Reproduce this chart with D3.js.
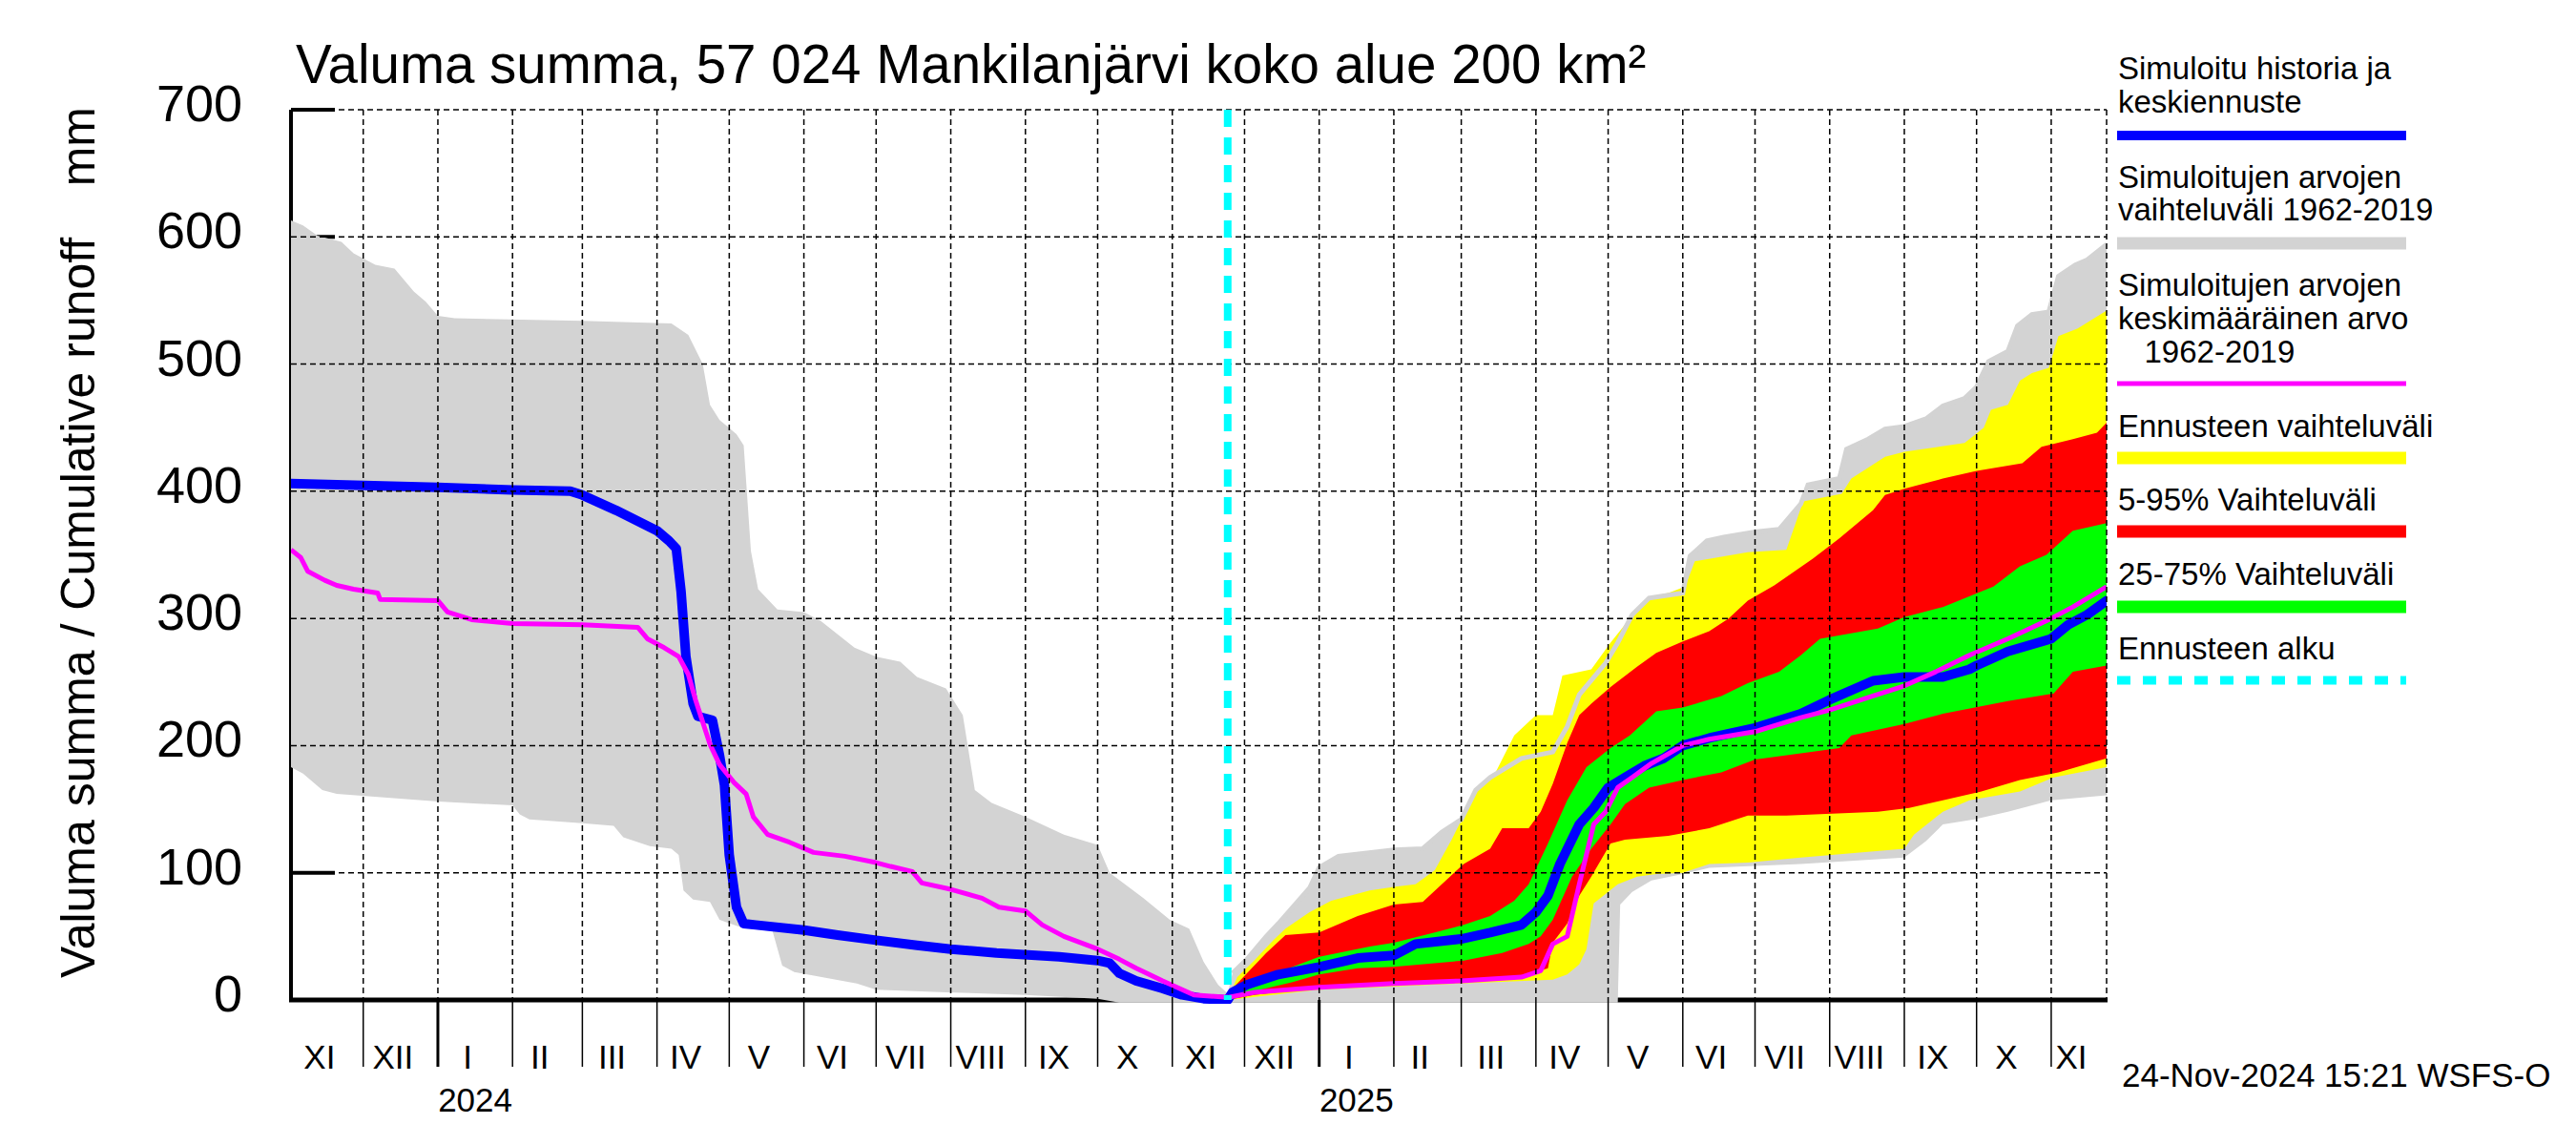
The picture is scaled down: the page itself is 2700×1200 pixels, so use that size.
<!DOCTYPE html>
<html>
<head>
<meta charset="utf-8">
<script src="https://cdn.jsdelivr.net/npm/d3@7/dist/d3.min.js"></script>
<style>
  html, body { margin: 0; padding: 0; background: #fff; }
  svg { display: block; }
  text { font-family: "Liberation Sans", Arial, Helvetica, sans-serif; fill: #000; }
</style>
</head>
<body>
<svg id="chart" width="2700" height="1200"></svg>
<script>
// ---------------- DATA ----------------
const titleText = "Valuma summa, 57 024 Mankilanjärvi koko alue 200 km²";
const yAxisTitle = "Valuma summa / Cumulative runoff";
const yAxisUnit = "mm";
const stampText = "24-Nov-2024 15:21 WSFS-O";
const dateStart = "2023-11-01";
const dateEnd = "2025-11-24";
const forecastStart = "2024-11-24";
const yTicks = [0, 100, 200, 300, 400, 500, 600, 700];
const monthNames = ["I","II","III","IV","V","VI","VII","VIII","IX","X","XI","XII"];

// Historical simulated range 1962-2019 (max / min)
const histMax = [["2023-11-01",613],["2023-11-06",609],["2023-11-12",601],["2023-11-22",596],["2023-11-27",587],["2023-12-06",578],["2023-12-14",575],["2023-12-18",566],["2023-12-22",557],["2023-12-27",549],["2024-01-01",538],["2024-01-08",536],["2024-03-01",534],["2024-04-07",532],["2024-04-14",523],["2024-04-20",500],["2024-04-23",468],["2024-04-27",456],["2024-05-04",445],["2024-05-07",436],["2024-05-10",353],["2024-05-13",323],["2024-05-21",307],["2024-06-01",305],["2024-06-08",298],["2024-06-22",277],["2024-07-01",270],["2024-07-11",266],["2024-07-18",254],["2024-07-30",245],["2024-08-06",224],["2024-08-11",165],["2024-08-18",155],["2024-09-01",144],["2024-09-17",130],["2024-10-01",122],["2024-10-06",100],["2024-10-20",80],["2024-10-31",63],["2024-11-08",56],["2024-11-14",30],["2024-11-20",12],["2024-11-24",5],["2024-11-26",21],["2024-12-02",32],["2024-12-10",50],["2024-12-15",60],["2024-12-28",88],["2025-01-01",104],["2025-01-09",113],["2025-02-01",118],["2025-02-13",119],["2025-02-21",132],["2025-03-01",142],["2025-03-07",165],["2025-03-13",175],["2025-03-26",190],["2025-04-08",195],["2025-04-14",215],["2025-04-19",240],["2025-04-30",265],["2025-05-05",281],["2025-05-11",303],["2025-05-18",316],["2025-06-01",320],["2025-06-04",349],["2025-06-11",361],["2025-06-18",364],["2025-07-01",368],["2025-07-11",370],["2025-07-20",390],["2025-07-23",405],["2025-08-05",410],["2025-08-08",433],["2025-08-17",441],["2025-08-24",449],["2025-09-01",451],["2025-09-10",457],["2025-09-17",467],["2025-09-26",473],["2025-10-01",482],["2025-10-06",502],["2025-10-14",510],["2025-10-18",530],["2025-10-24",539],["2025-10-31",541],["2025-11-04",569],["2025-11-11",578],["2025-11-16",582],["2025-11-24",594]];
const histMin = [["2023-11-01",183],["2023-11-06",178],["2023-11-14",165],["2023-11-20",162],["2024-01-01",156],["2024-02-01",153],["2024-02-04",146],["2024-02-08",142],["2024-03-01",139],["2024-03-14",137],["2024-03-18",128],["2024-03-29",121],["2024-04-07",119],["2024-04-10",114],["2024-04-12",86],["2024-04-16",79],["2024-04-23",77],["2024-04-27",63],["2024-05-06",57],["2024-05-19",54],["2024-05-23",27],["2024-05-28",22],["2024-06-23",13],["2024-07-01",8],["2024-07-30",6],["2024-09-01",4],["2024-10-01",1],["2024-10-10",-2],["2025-05-05",-2],["2025-05-06",75],["2025-05-11",85],["2025-05-19",94],["2025-06-01",99],["2025-06-12",104],["2025-07-20",107],["2025-09-01",112],["2025-09-10",125],["2025-09-17",138],["2025-09-30",142],["2025-10-14",148],["2025-11-01",157],["2025-11-24",161]];

// Forecast range (max / min)
const fcMax = [["2024-11-24",0],["2024-11-28",18],["2024-12-05",31],["2024-12-13",47],["2024-12-18",56],["2024-12-28",69],["2025-01-06",78],["2025-01-22",86],["2025-02-01",89],["2025-02-10",91],["2025-02-18",102],["2025-02-25",126],["2025-03-07",164],["2025-03-15",178],["2025-03-23",208],["2025-04-01",224],["2025-04-08",224],["2025-04-12",255],["2025-04-24",260],["2025-05-02",281],["2025-05-10",300],["2025-05-18",317],["2025-05-26",320],["2025-06-02",325],["2025-06-06",345],["2025-06-28",352],["2025-07-14",354],["2025-07-21",392],["2025-08-06",398],["2025-08-10",410],["2025-08-24",427],["2025-09-01",431],["2025-09-26",438],["2025-10-04",450],["2025-10-07",464],["2025-10-14",468],["2025-10-19",487],["2025-10-24",493],["2025-10-31",497],["2025-11-04",522],["2025-11-12",528],["2025-11-24",542]];
const fcMin = [["2024-11-24",0],["2025-01-01",8],["2025-03-01",13],["2025-04-08",16],["2025-04-14",20],["2025-04-19",28],["2025-04-22",40],["2025-04-25",76],["2025-05-05",91],["2025-05-13",97],["2025-05-21",99],["2025-06-01",100],["2025-06-12",107],["2025-06-28",108],["2025-07-20",112],["2025-09-01",119],["2025-09-05",130],["2025-09-17",148],["2025-09-28",157],["2025-10-19",164],["2025-11-02",175],["2025-11-24",183]];

// 5-95 % range
const p95 = [["2024-11-24",0],["2024-11-26",9],["2024-12-02",21],["2024-12-10",37],["2024-12-18",51],["2025-01-01",53],["2025-01-17",66],["2025-02-01",75],["2025-02-13",77],["2025-03-02",107],["2025-03-13",119],["2025-03-18",135],["2025-03-29",135],["2025-04-03",148],["2025-04-08",170],["2025-04-14",202],["2025-04-19",224],["2025-04-24",233],["2025-05-02",246],["2025-05-13",262],["2025-05-21",273],["2025-06-01",282],["2025-06-12",290],["2025-06-20",300],["2025-06-28",314],["2025-07-09",326],["2025-07-25",347],["2025-08-05",363],["2025-08-19",385],["2025-08-24",397],["2025-09-01",402],["2025-09-17",410],["2025-10-01",416],["2025-10-20",422],["2025-10-28",435],["2025-11-10",441],["2025-11-20",446],["2025-11-24",454]];
const p05 = [["2024-11-24",0],["2024-12-05",4],["2025-01-01",10],["2025-02-01",14],["2025-03-01",15],["2025-03-26",18],["2025-04-06",25],["2025-04-08",45],["2025-04-14",60],["2025-04-19",82],["2025-04-24",97],["2025-05-02",123],["2025-05-08",126],["2025-05-26",129],["2025-06-12",135],["2025-06-28",145],["2025-07-14",145],["2025-08-21",148],["2025-09-03",151],["2025-09-17",157],["2025-10-03",164],["2025-10-19",173],["2025-11-04",179],["2025-11-24",190]];

// 25-75 % range
const p75 = [["2024-11-24",0],["2024-11-26",7],["2024-12-05",15],["2024-12-21",26],["2025-01-01",34],["2025-01-22",42],["2025-02-01",45],["2025-02-18",53],["2025-03-02",59],["2025-03-13",66],["2025-03-23",78],["2025-03-29",91],["2025-04-06",123],["2025-04-14",157],["2025-04-22",183],["2025-05-02",198],["2025-05-10",208],["2025-05-21",227],["2025-06-01",230],["2025-06-17",239],["2025-06-28",249],["2025-07-11",258],["2025-07-20",271],["2025-07-28",284],["2025-08-21",292],["2025-09-01",301],["2025-09-17",309],["2025-10-08",325],["2025-10-19",341],["2025-10-30",350],["2025-11-10",369],["2025-11-24",375]];
const p25 = [["2024-11-24",0],["2024-12-05",7],["2024-12-21",14],["2025-01-01",20],["2025-01-17",25],["2025-02-01",26],["2025-03-02",31],["2025-03-18",37],["2025-03-29",44],["2025-04-03",50],["2025-04-08",63],["2025-04-16",97],["2025-04-24",119],["2025-05-02",138],["2025-05-08",154],["2025-05-18",167],["2025-06-01",173],["2025-06-17",179],["2025-07-01",189],["2025-07-20",194],["2025-08-05",198],["2025-08-10",208],["2025-09-01",217],["2025-09-17",225],["2025-10-14",235],["2025-11-02",241],["2025-11-10",258],["2025-11-24",263]];

// Simulated history and median forecast
const simulated = [["2023-11-01",406],["2024-01-01",403],["2024-02-01",401],["2024-02-25",400],["2024-03-01",397],["2024-03-15",385],["2024-04-01",369],["2024-04-06",361],["2024-04-09",355],["2024-04-11",321],["2024-04-13",270],["2024-04-16",233],["2024-04-18",223],["2024-04-24",220],["2024-04-27",192],["2024-04-29",169],["2024-05-01",114],["2024-05-04",73],["2024-05-07",60],["2024-05-12",59],["2024-06-01",55],["2024-06-15",51],["2024-07-01",47],["2024-07-18",43],["2024-08-01",40],["2024-08-20",37],["2024-09-15",34],["2024-10-01",31],["2024-10-06",29],["2024-10-10",21],["2024-10-17",15],["2024-10-28",9],["2024-11-05",4],["2024-11-14",1],["2024-11-24",0],["2024-11-26",6],["2024-12-02",12],["2024-12-15",20],["2025-01-01",26],["2025-01-17",33],["2025-02-01",35],["2025-02-10",44],["2025-03-01",48],["2025-03-13",53],["2025-03-26",59],["2025-04-01",69],["2025-04-06",82],["2025-04-11",107],["2025-04-19",138],["2025-04-25",151],["2025-05-01",167],["2025-05-08",175],["2025-05-16",184],["2025-05-24",190],["2025-06-01",200],["2025-06-12",206],["2025-07-01",214],["2025-07-20",225],["2025-08-01",236],["2025-08-19",251],["2025-09-01",254],["2025-09-17",254],["2025-09-28",260],["2025-10-01",263],["2025-10-14",274],["2025-11-01",284],["2025-11-08",295],["2025-11-16",303],["2025-11-24",314]];

// Mean of simulated values 1962-2019
const simMean = [["2023-11-01",354],["2023-11-05",348],["2023-11-08",337],["2023-11-15",330],["2023-11-20",326],["2023-11-27",323],["2023-12-07",320],["2023-12-08",315],["2024-01-01",314],["2024-01-05",305],["2024-01-15",299],["2024-02-01",296],["2024-03-01",295],["2024-03-24",293],["2024-03-28",284],["2024-04-04",277],["2024-04-10",270],["2024-04-14",256],["2024-04-17",236],["2024-04-23",201],["2024-04-27",185],["2024-05-03",171],["2024-05-08",162],["2024-05-11",144],["2024-05-17",130],["2024-05-26",124],["2024-06-05",116],["2024-06-18",113],["2024-07-01",108],["2024-07-07",105],["2024-07-16",101],["2024-07-20",92],["2024-08-01",87],["2024-08-14",80],["2024-08-21",73],["2024-09-01",70],["2024-09-08",59],["2024-09-17",50],["2024-10-01",40],["2024-10-10",32],["2024-10-17",25],["2024-10-28",15],["2024-11-10",4],["2024-11-24",2],["2024-12-05",6],["2025-01-01",10],["2025-02-01",13],["2025-03-01",15],["2025-03-26",18],["2025-04-03",23],["2025-04-08",44],["2025-04-14",50],["2025-04-19",91],["2025-04-25",138],["2025-04-30",148],["2025-05-05",167],["2025-05-11",175],["2025-05-19",186],["2025-06-01",200],["2025-06-12",205],["2025-07-01",211],["2025-07-20",222],["2025-08-01",228],["2025-08-19",239],["2025-09-01",247],["2025-09-14",258],["2025-09-28",271],["2025-10-14",284],["2025-11-01",300],["2025-11-10",309],["2025-11-24",325]];

const legendItems = [
  {lines: ["Simuloitu historia ja", "keskiennuste"], color: "#0000ff", width: 10},
  {lines: ["Simuloitujen arvojen", "vaihteluväli 1962-2019"], color: "#d3d3d3", width: 13},
  {lines: ["Simuloitujen arvojen", "keskimääräinen arvo", "   1962-2019"], color: "#ff00ff", width: 5},
  {lines: ["Ennusteen vaihteluväli"], color: "#ffff00", width: 13},
  {lines: ["5-95% Vaihteluväli"], color: "#ff0000", width: 13},
  {lines: ["25-75% Vaihteluväli"], color: "#00ff00", width: 13},
  {lines: ["Ennusteen alku"], color: "#00ffff", width: 9, dash: "14,13"}
];

// ---------------- LAYOUT ----------------
const L = 305, R = 2208, T = 115, B = 1048;
const parse = d3.utcParse("%Y-%m-%d");
const t0 = parse(dateStart), t1 = parse(dateEnd), tf = parse(forecastStart);
const x = d3.scaleUtc().domain([t0, t1]).range([L, R]);
const y = d3.scaleLinear().domain([0, 700]).range([B, T]);

const svg = d3.select("#chart");
svg.append("rect").attr("width", 2700).attr("height", 1200).attr("fill", "#fff");

const toPts = arr => arr.map(d => ({t: parse(d[0]), v: d[1]}));
const line = d3.line().x(d => x(d.t)).y(d => y(d.v));
const bandPath = (up, lo) => line(toPts(up).concat(toPts(lo).reverse())) + "Z";

svg.append("clipPath").attr("id", "clip").append("rect")
  .attr("x", L).attr("y", T - 5).attr("width", R - L).attr("height", B - T + 9);

// axes (drawn first; bands cover them like in the original)
svg.append("line").attr("x1", L).attr("x2", L).attr("y1", T).attr("y2", B + 2)
  .attr("stroke", "#000").attr("stroke-width", 4);
svg.append("line").attr("x1", L - 2).attr("x2", R + 1).attr("y1", B).attr("y2", B)
  .attr("stroke", "#000").attr("stroke-width", 5);
svg.append("g").selectAll("line").data(yTicks.filter(v => v > 0)).join("line")
  .attr("x1", L).attr("x2", L + 46).attr("y1", d => y(d)).attr("y2", d => y(d))
  .attr("stroke", "#000").attr("stroke-width", 4);

// bands
const plot = svg.append("g").attr("clip-path", "url(#clip)");
plot.append("path").attr("d", bandPath(histMax, histMin)).attr("fill", "#d3d3d3");
plot.append("path").attr("d", bandPath(fcMax, fcMin)).attr("fill", "#ffff00");
plot.append("path").attr("d", bandPath(p95, p05)).attr("fill", "#ff0000");
plot.append("path").attr("d", bandPath(p75, p25)).attr("fill", "#00ff00");
plot.append("path").attr("d", line(toPts(histMax).filter(d => d.t > tf)))
  .attr("fill", "none").attr("stroke", "#d3d3d3").attr("stroke-width", 5);

// grid
const months = d3.utcMonth.range(d3.utcDay.offset(t0, 1), t1);
const grid = svg.append("g").attr("stroke", "#000").attr("stroke-width", 1.5).attr("stroke-dasharray", "6,4");
grid.selectAll("line.h").data(yTicks.filter(v => v > 0)).join("line").attr("class", "h")
  .attr("x1", L).attr("x2", R).attr("y1", d => y(d)).attr("y2", d => y(d));
grid.selectAll("line.v").data(months).join("line").attr("class", "v")
  .attr("x1", d => x(d)).attr("x2", d => x(d)).attr("y1", T).attr("y2", B);
grid.append("line").attr("x1", R).attr("x2", R).attr("y1", T).attr("y2", B);

// series lines
plot.append("path").attr("d", line(toPts(simulated))).attr("fill", "none")
  .attr("stroke", "#0000ff").attr("stroke-width", 10).attr("stroke-linejoin", "round").attr("stroke-linecap", "round");
plot.append("path").attr("d", line(toPts(simMean))).attr("fill", "none")
  .attr("stroke", "#ff00ff").attr("stroke-width", 5).attr("stroke-linejoin", "round");

// forecast start
svg.append("line").attr("x1", x(tf)).attr("x2", x(tf)).attr("y1", T).attr("y2", B)
  .attr("stroke", "#00ffff").attr("stroke-width", 8).attr("stroke-dasharray", "18,11");

// y tick labels
svg.append("g").selectAll("text").data(yTicks).join("text")
  .attr("x", 254).attr("y", d => y(d) + 12).attr("text-anchor", "end")
  .attr("font-size", 54).text(d => d);

// x separators below axis
svg.append("g").selectAll("line").data(months).join("line")
  .attr("x1", d => x(d)).attr("x2", d => x(d)).attr("y1", B).attr("y2", 1118)
  .attr("stroke", "#000").attr("stroke-width", d => d.getUTCMonth() === 0 ? 3 : 1.5);

// month labels
const monthStarts = [t0].concat(months);
const intervals = monthStarts.map((m, i) => ({m, a: m, b: i + 1 < monthStarts.length ? monthStarts[i + 1] : t1}));
svg.append("g").selectAll("text").data(intervals).join("text")
  .attr("x", d => (x(d.a) + x(d.b)) / 2 - 8).attr("y", 1120)
  .attr("text-anchor", "middle").attr("font-size", 35)
  .text(d => monthNames[d.m.getUTCMonth()]);
svg.append("g").selectAll("text").data(intervals.filter(d => d.m.getUTCMonth() === 0)).join("text")
  .attr("x", d => (x(d.a) + x(d.b)) / 2).attr("y", 1165)
  .attr("text-anchor", "middle").attr("font-size", 35)
  .text(d => d.m.getUTCFullYear());

// title
svg.append("text").attr("x", 310).attr("y", 87).attr("font-size", 56.5).text(titleText);

// y axis title
svg.append("text").attr("transform", "translate(99,1025) rotate(-90)")
  .attr("font-size", 50).text(yAxisTitle);
svg.append("text").attr("transform", "translate(99,112) rotate(-90)")
  .attr("text-anchor", "end").attr("font-size", 50).text(yAxisUnit);

// stamp
svg.append("text").attr("x", 2224).attr("y", 1139).attr("font-size", 35).text(stampText);

// legend
const lg = svg.append("g");
const baselines = [[83, 118], [197, 231], [310, 345, 380], [458], [535], [613], [691]];
const lineYs = [142, 255, 402, 480, 557, 636, 713];
legendItems.forEach((it, i) => {
  it.lines.forEach((s, j) => {
    lg.append("text").attr("x", 2220).attr("y", baselines[i][j]).attr("font-size", 33)
      .attr("xml:space", "preserve").style("white-space", "pre").text(s);
  });
  lg.append("line").attr("x1", 2219).attr("x2", 2522).attr("y1", lineYs[i]).attr("y2", lineYs[i])
    .attr("stroke", it.color).attr("stroke-width", it.width)
    .attr("stroke-dasharray", it.dash || null);
});
</script>
</body>
</html>
